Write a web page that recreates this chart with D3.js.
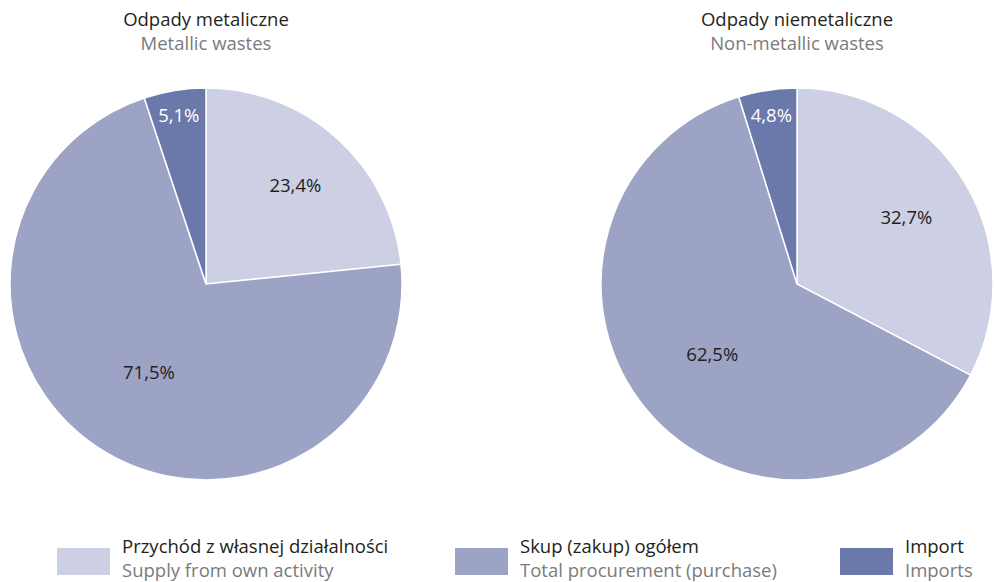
<!DOCTYPE html>
<html>
<head>
<meta charset="utf-8">
<script src="https://cdn.jsdelivr.net/npm/d3@7"></script>
<style>
  html, body { margin: 0; padding: 0; background: #fff; }
  svg { display: block; font-family: "Open Sans", "Noto Sans", sans-serif; }
</style>
</head>
<body>
<script>
// categories (Polish / English)
const categoriesPl = ['Przychód z własnej działalności', 'Skup (zakup) ogółem', 'Import'];
const categoriesEn = ['Supply from own activity', 'Total procurement (purchase)', 'Imports'];

// chart titles
const titlesPl = ['Odpady metaliczne', 'Odpady niemetaliczne'];
const titlesEn = ['Metallic wastes', 'Non-metallic wastes'];

// shares in %
const metallic = [23.4, 71.5, 5.1];
const nonMetallic = [32.7, 62.5, 4.8];

const colors = ['#cdd0e4', '#9ca3c4', '#6b78aa'];

const width = 994;
const height = 582;
const radius = 196;
const centers = [206, 797];
const cy = 284;
const fontSize = 18.5;

const fmt = v => d3.format('.1f')(v).replace('.', ',') + '%';

const svg = d3.select('body').append('svg')
    .attr('width', width)
    .attr('height', height)
    .attr('viewBox', [0, 0, width, height]);

const pie = d3.pie().sort(null).value(d => d);
const arc = d3.arc().innerRadius(0).outerRadius(radius);

// small slices get the label near the rim, big ones closer to the centre
const labelRadius = v => v < 10 ? radius * 0.87 : radius * (0.75 - 0.003 * v);

[metallic, nonMetallic].forEach((values, i) => {
    const cx = centers[i];

    svg.append('text')
        .attr('x', cx)
        .attr('y', 26)
        .attr('text-anchor', 'middle')
        .attr('font-size', fontSize)
        .attr('fill', '#231f20')
        .text(titlesPl[i]);

    svg.append('text')
        .attr('x', cx)
        .attr('y', 50)
        .attr('text-anchor', 'middle')
        .attr('font-size', fontSize)
        .attr('fill', '#7b7b7b')
        .text(titlesEn[i]);

    const g = svg.append('g')
        .attr('transform', `translate(${cx},${cy})`);

    const arcs = pie(values);

    g.selectAll('path')
        .data(arcs)
        .join('path')
        .attr('d', arc)
        .attr('fill', (d, j) => colors[j])
        .attr('stroke', '#fff')
        .attr('stroke-width', 1.5);

    g.selectAll('text')
        .data(arcs)
        .join('text')
        .attr('transform', d => {
            const r = labelRadius(d.data);
            const c = d3.arc().innerRadius(r).outerRadius(r).centroid(d);
            return `translate(${c})`;
        })
        .attr('text-anchor', 'middle')
        .attr('dy', '0.35em')
        .attr('font-size', fontSize)
        .attr('fill', (d, j) => j === 2 ? '#fff' : '#231f20')
        .text(d => fmt(d.data));
});

// legend
const legendX = [57, 455, 840];
const legend = svg.append('g')
    .selectAll('g')
    .data(categoriesPl)
    .join('g')
    .attr('transform', (d, i) => `translate(${legendX[i]},548)`);

legend.append('rect')
    .attr('width', 53)
    .attr('height', 27)
    .attr('fill', (d, i) => colors[i]);

legend.append('text')
    .attr('x', 65)
    .attr('y', 5)
    .attr('font-size', fontSize)
    .attr('fill', '#231f20')
    .text(d => d);

legend.append('text')
    .attr('x', 65)
    .attr('y', 29)
    .attr('font-size', fontSize)
    .attr('fill', '#7b7b7b')
    .text((d, i) => categoriesEn[i]);
</script>
</body>
</html>
